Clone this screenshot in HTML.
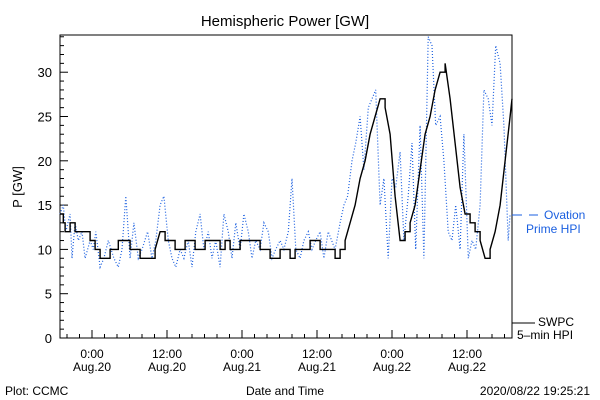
<!DOCTYPE html>
<html><head><meta charset="utf-8"><style>
body{margin:0;background:#fff;}
svg{display:block;font-family:"Liberation Sans",sans-serif;}
</style></head><body>
<svg id="chart" width="600" height="400" viewBox="0 0 600 400">
<rect width="600" height="400" fill="#fff"/>
<text x="285" y="26" text-anchor="middle" font-size="15">Hemispheric Power [GW]</text>
<text transform="translate(22,187) rotate(-90)" text-anchor="middle" font-size="13">P [GW]</text>
<text x="285" y="395" text-anchor="middle" font-size="12">Date and Time</text>
<text x="5" y="395" font-size="12">Plot: CCMC</text>
<text x="590" y="395" text-anchor="end" font-size="12">2020/08/22 19:25:21</text>
<g id="axes"></g>
<g id="series"></g>
<line x1="512" y1="215" x2="522" y2="215" stroke="#1a5fe0"/>
<line x1="529" y1="215" x2="538" y2="215" stroke="#1a5fe0"/>
<text x="544" y="219" font-size="12" fill="#1a5fe0">Ovation</text>
<text x="526" y="233" font-size="12" fill="#1a5fe0">Prime HPI</text>
<line x1="512" y1="323" x2="535" y2="323" stroke="#000"/>
<text x="538" y="326" font-size="12">SWPC</text>
<text x="517" y="339" font-size="12">5–min HPI</text>
</svg>
<script>
const yTicks=[0,5,10,15,20,25,30];
const xTickHours=[0,12,24,36,48,60];
const xTickTimes=["0:00","12:00","0:00","12:00","0:00","12:00"];
const xTickDates=["Aug.20","Aug.20","Aug.21","Aug.21","Aug.22","Aug.22"];
const swpcHours=[-5.1,-4.6,-4.3,-3.5,-2.7,-0.3,0.5,1.3,2.1,2.9,3.7,4.2,5.3,6.1,6.9,7.7,9.3,10.1,10.9,11.7,12.5,13.3,14.1,14.9,15.7,16.5,17.3,18.1,18.9,19.7,20.5,21.3,22.1,22.9,23.7,26.1,26.9,27.7,28.5,30.1,30.9,31.7,32.5,33.3,34.9,35.7,36.5,38.1,38.9,39.7,40.5,41.3,42.1,42.9,43.7,44.5,45.3,46.1,46.9,47.7,48.5,49.3,50.1,50.9,51.7,52.5,53.3,54.1,54.9,55.7,56.5,57.3,58.1,58.9,59.7,60.5,61.3,62.1,62.9,63.7,64.5,65.3,66.1,66.9];
const swpcValues=[14,13,12,13,12,11,10,9,9,10,10,11,11,10,10,9,9,10,12,11,11,10,10,11,11,10,10,11,11,11,10,11,10,10,11,11,10,10,9,10,10,9,10,10,11,11,10,10,9,10,11,13,15,18,20,23,25,27,26,23,16,11,12,13,15,19,23,25,28,30,31,27,22,17,14,13,12,11,9,10,12,15,20,25];
const ovHours=[-5.1,-4.6,-4.2,-3.5,-3.2,-2.7,-2.2,-1.6,-1.1,-0.3,0.2,0.6,1.3,1.9,2.6,3.5,4.2,4.8,5.4,6.1,6.7,7.4,8.0,8.9,9.6,10.2,10.9,11.5,12.2,12.8,13.4,14.1,14.7,15.4,16.0,16.6,17.3,17.9,18.6,19.2,19.8,20.5,21.1,21.8,22.4,23.0,23.7,24.3,25.0,25.6,26.2,26.9,27.5,28.2,28.8,29.4,30.1,30.7,31.4,32.0,32.6,33.3,33.9,34.6,35.2,35.8,36.5,37.1,37.8,38.9,39.7,40.3,40.9,41.6,42.2,42.9,43.5,44.2,44.8,45.4,46.1,46.7,47.4,48.0,48.6,49.3,49.9,50.6,51.2,51.8,52.5,53.1,53.8,54.4,55.0,55.7,56.3,57.0,57.6,58.2,58.9,59.5,60.2,60.8,61.4,62.1,62.7,63.4,64.0,64.6,65.3,65.9,66.6,66.9];
const ovValues=[14,15,12,14,9,13,11,12,9,11,10,12,8,9,11,9,8,10,16,9,13,9,10,12,9,11,15,16,11,9,8,10,9,11,8,12,14,10,12,9,11,8,14,12,9,13,10,14,12,9,11,10,13,12,9,10,11,10,12,18,10,9,11,12,10,11,12,9,12,10,13,15,16,20,22,25,19,26,27,28,15,18,9,18,17,21,11,16,22,10,24,9,34,33,24,25,20,12,11,15,10,23,9,11,10,15,28,27,24,33,31,24,11,14];
const L=60,R=512,T=35,B=338,H0=-5.12,H1=67.2,YMAX=34.2;
const xs=h=>L+(h-H0)/(H1-H0)*(R-L);
const ys=v=>B-v/YMAX*(B-T);
const NS="http://www.w3.org/2000/svg";
function mk(tag,at,parent){const e=document.createElementNS(NS,tag);for(const k in at)e.setAttribute(k,at[k]);parent.appendChild(e);return e;}
const ax=document.getElementById('axes');
const frame=mk('rect',{x:L,y:T,width:R-L,height:B-T,fill:'none',stroke:'#000'},ax);


for(let v=0;v<=34;v++){const major=v%5===0;
 const t=mk('line',{x1:L,x2:L+(major?8:4),y1:ys(v),y2:ys(v),stroke:'#000'},ax);
 
 }
yTicks.forEach(v=>{const t=mk('text',{x:L-8,y:ys(v)+5,'text-anchor':'end','font-size':13},ax);t.textContent=v;
 
 });
for(let h=-4;h<=66;h+=2){const major=h%12===0;
 const t=mk('line',{x1:xs(h),x2:xs(h),y1:B,y2:B-(major?8:4),stroke:'#000'},ax);
 
 }
xTickHours.forEach((h,i)=>{
 const a=mk('text',{x:xs(h),y:B+20,'text-anchor':'middle','font-size':12},ax);a.textContent=xTickTimes[i];
 
 
 const b=mk('text',{x:xs(h),y:B+33,'text-anchor':'middle','font-size':12},ax);b.textContent=xTickDates[i];
 
 });
const sg=document.getElementById('series');
let d='';ovHours.forEach((h,i)=>{d+=(i?'L':'M')+xs(h).toFixed(1)+' '+ys(ovValues[i]).toFixed(1);});
const ov=mk('path',{d:d,fill:'none',stroke:'#1a5fe0','stroke-width':1.2,'stroke-dasharray':'1 2'},sg);


let s='';swpcHours.forEach((h,i)=>{const x=xs(h).toFixed(1),y=ys(swpcValues[i]).toFixed(1);
 if(i===0)s+='M'+x+' '+y;
 else if(Math.abs(swpcValues[i]-swpcValues[i-1])>1)s+='L'+x+' '+y;
 else s+='L'+x+' '+ys(swpcValues[i-1]).toFixed(1)+'L'+x+' '+y;});
s+='L'+R+' '+ys(27).toFixed(1);
const sw=mk('path',{d:s,fill:'none',stroke:'#000','stroke-width':1.4},sg);


</script>
</body></html>
